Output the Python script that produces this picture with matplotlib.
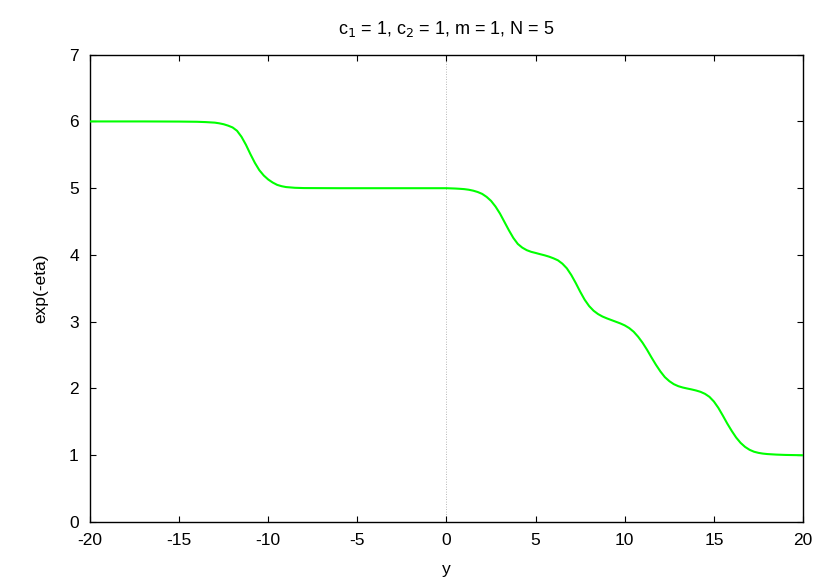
import matplotlib
matplotlib.use("Agg")
import matplotlib.pyplot as plt

plt.rcParams['font.family'] = ['Liberation Sans', 'DejaVu Sans']
plt.rcParams['axes.unicode_minus'] = False

y_coord = [-20, -17, -15, -14, -13.5, -13, -12.75, -12.5, -12.25, -12, -11.75, -11.5, -11.25,
           -11, -10.75, -10.5, -10.25, -10, -9.75, -9.5, -9.25, -9, -8.5, -8, -6, -4, -2, 0,
           0.5, 0.75, 1, 1.25, 1.5, 1.75, 2, 2.25, 2.5, 2.75, 3, 3.25, 3.5, 3.75, 4, 4.25, 4.5,
           4.75, 5, 5.25, 5.5, 5.75, 6, 6.25, 6.5, 6.75, 7, 7.25, 7.5, 7.75, 8, 8.25, 8.5,
           8.75, 9, 9.25, 9.5, 9.75, 10, 10.25, 10.5, 10.75, 11, 11.25, 11.5, 11.75, 12,
           12.25, 12.5, 12.75, 13, 13.25, 13.5, 13.75, 14, 14.25, 14.5, 14.75, 15, 15.25,
           15.5, 15.75, 16, 16.25, 16.5, 16.75, 17, 17.25, 17.5, 17.75, 18, 18.5, 19, 20]
exp_eta = [6.0, 6.0, 5.998, 5.995, 5.99, 5.982, 5.972, 5.958, 5.937, 5.91, 5.86, 5.77, 5.65,
           5.51, 5.38, 5.27, 5.19, 5.13, 5.085, 5.05, 5.03, 5.017, 5.006, 5.002, 5.0, 5.0, 5.0, 5.0,
           4.995, 4.991, 4.986, 4.977, 4.963, 4.943, 4.915, 4.87, 4.81, 4.725, 4.62, 4.495, 4.37,
           4.255, 4.165, 4.11, 4.072, 4.047, 4.03, 4.012, 3.995, 3.975, 3.95, 3.92, 3.87, 3.80,
           3.70, 3.58, 3.45, 3.33, 3.235, 3.165, 3.115, 3.078, 3.05, 3.025, 3.00, 2.975, 2.945,
           2.905, 2.85, 2.775, 2.685, 2.58, 2.465, 2.355, 2.255, 2.17, 2.11, 2.065, 2.035, 2.015,
           2.0, 1.986, 1.97, 1.95, 1.92, 1.875, 1.805, 1.71, 1.595, 1.475, 1.365, 1.265, 1.185,
           1.125, 1.082, 1.053, 1.036, 1.025, 1.018, 1.01, 1.005, 1.0]

x_ticks = [-20, -15, -10, -5, 0, 5, 10, 15, 20]
y_ticks = [0, 1, 2, 3, 4, 5, 6, 7]

fig = plt.figure(figsize=(8.3, 5.81), dpi=100)
ax = fig.add_axes([0.1084, 0.1015, 0.8591, 0.8044])

ax.axvline(0, color='#a0a0a0', lw=0.6, ls=(0, (1, 2)), zorder=1)
ax.plot(y_coord, exp_eta, color='#00ff00', lw=1.5, zorder=3)

ax.set_xlim(-20, 20)
ax.set_ylim(0, 7)
ax.set_xticks(x_ticks)
ax.set_yticks(y_ticks)
ax.tick_params(direction='in', length=4, width=0.8, top=True, right=True,
               labelsize=12.5, pad=8)
for s in ax.spines.values():
    s.set_linewidth(1.0)

ax.set_title('c$_1$ = 1, c$_2$ = 1, m = 1, N = 5', fontsize=13, pad=15)
ax.set_xlabel('y', fontsize=12.5, labelpad=10)
ax.set_ylabel('exp(-eta)', fontsize=12.5, labelpad=15)

fig.savefig('out.png', dpi=100)
